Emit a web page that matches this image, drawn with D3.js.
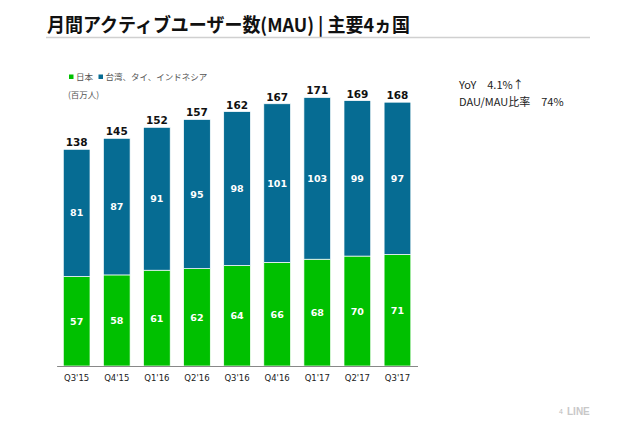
<!DOCTYPE html>
<html><head><meta charset="utf-8">
<script src="https://cdn.jsdelivr.net/npm/d3@7"></script>
<style>
html,body{margin:0;padding:0;background:#fff;}
svg{display:block;}
</style>
</head><body>
<svg id="c" width="640" height="438"></svg>
<script>
const quarters = ["Q3'15","Q4'15","Q1'16","Q2'16","Q3'16","Q4'16","Q1'17","Q2'17","Q3'17"];
const japan = [57,58,61,62,64,66,68,70,71];
const others = [81,87,91,95,98,101,103,99,97];
const totals = [138,145,152,157,162,167,171,169,168];
const seriesNames = ["日本","台湾、タイ、インドネシア"];

const svg = d3.select("#c");
const jp = "'Noto Sans CJK JP','Noto Sans',sans-serif";
const GREEN = "#00c000", BLUE = "#066c93";

// title
svg.append("text").attr("x",47).attr("y",32)
  .attr("font-family",jp).attr("font-weight","bold").attr("font-size",19)
  .attr("fill","#111").attr("textLength",363).attr("lengthAdjust","spacingAndGlyphs")
  .text("月間アクティブユーザー数(MAU) | 主要4ヵ国");
svg.append("line").attr("x1",46).attr("x2",590).attr("y1",37.5).attr("y2",37.5)
  .attr("stroke","#d0d0d0").attr("stroke-width",1.3);

const x = d3.scaleBand().domain(quarters).range([56.6,417.5]).paddingInner(0.334).paddingOuter(0.167);
const y = d3.scaleLinear().domain([0,138]).range([366,149.3]);

const stack = d3.stack().keys([0,1]).value((d,k)=>k===0?d.j:d.o);
const rows = quarters.map((q,i)=>({q, j:japan[i], o:others[i], t:totals[i]}));
const layers = stack(rows);
const colors = [GREEN, BLUE];

layers.forEach((layer,li)=>{
  const g = svg.append("g");
  g.selectAll("rect").data(layer).enter().append("rect")
    .attr("x",d=>x(d.data.q)).attr("width",x.bandwidth())
    .attr("y",d=>y(d[1])).attr("height",d=>y(d[0])-y(d[1]))
    .attr("fill",colors[li]).attr("stroke","#fff").attr("stroke-width",0.7);
  g.selectAll("text").data(layer).enter().append("text")
    .attr("x",d=>x(d.data.q)+x.bandwidth()/2)
    .attr("y",d=>(y(d[0])+y(d[1]))/2+3.5)
    .attr("text-anchor","middle").attr("font-family","Verdana,'DejaVu Sans',sans-serif")
    .attr("font-weight","bold").attr("font-size",9.5).attr("fill","#fff")
    .text(d=>li===0?d.data.j:d.data.o);
});

// totals
svg.append("g").selectAll("text").data(rows).enter().append("text")
  .attr("x",d=>x(d.q)+x.bandwidth()/2).attr("y",d=>y(d.t)-3)
  .attr("text-anchor","middle").attr("font-family","Verdana,'DejaVu Sans',sans-serif")
  .attr("font-weight","bold").attr("font-size",10.5).attr("fill","#111")
  .text(d=>d.t);

// axis
const ax = svg.append("g").attr("transform","translate(0,366)")
  .call(d3.axisBottom(x).tickSize(0).tickPadding(9));
ax.select(".domain").attr("stroke","#888").attr("stroke-width",1);
ax.selectAll("text").attr("font-family","Verdana,'DejaVu Sans',sans-serif").attr("font-size",8.5).attr("fill","#222");

// legend
const leg = svg.append("g").attr("font-family",jp).attr("font-size",8.5).attr("fill","#555");
leg.append("rect").attr("x",69).attr("y",74.5).attr("width",4.5).attr("height",4.5).attr("fill",GREEN);
leg.append("text").attr("x",76).attr("y",80).text(seriesNames[0]);
leg.append("rect").attr("x",98.5).attr("y",74.5).attr("width",4.5).attr("height",4.5).attr("fill",BLUE);
leg.append("text").attr("x",105.5).attr("y",80).text(seriesNames[1]);
leg.append("text").attr("x",68).attr("y",97.5).text("(百万人)");

// side text
const st = svg.append("g").attr("font-family",jp).attr("font-size",11).attr("fill","#222");
st.append("text").attr("x",459).attr("y",89).text("YoY　4.1%↑");
st.append("text").attr("x",459).attr("y",106).text("DAU/MAU比率　74%");

// footer
svg.append("text").attr("x",559).attr("y",414).attr("font-family","Arial,'Liberation Sans',sans-serif")
  .attr("font-size",7).attr("fill","#bbb").text("4");
svg.append("text").attr("x",567).attr("y",414.5).attr("font-family","Arial,'Liberation Sans',sans-serif")
  .attr("font-weight","bold").attr("font-size",10).attr("fill","#c8c8c8").text("LINE");
</script>
</body></html>
